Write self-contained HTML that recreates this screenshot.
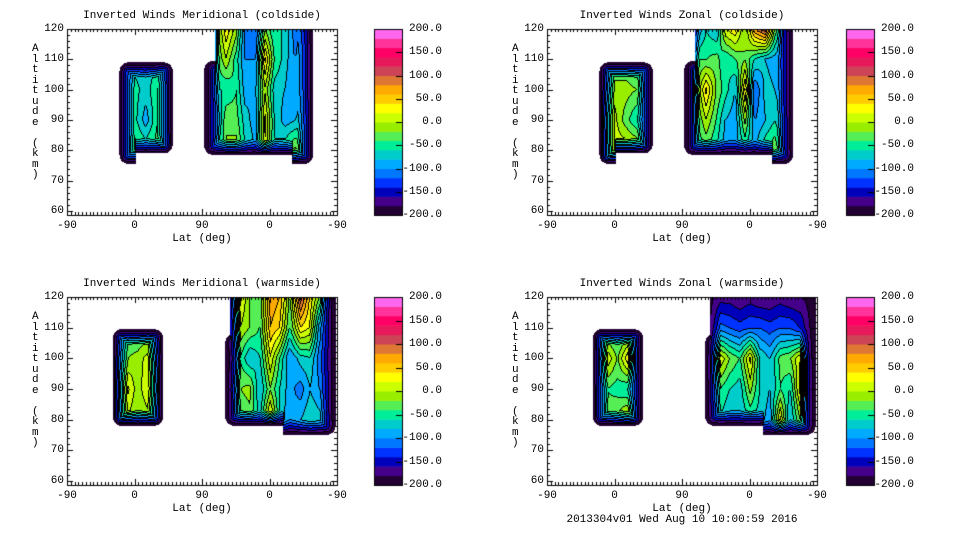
<!DOCTYPE html>
<html><head><meta charset="utf-8"><style>
body{margin:0;background:#fff;width:960px;height:540px;overflow:hidden;position:relative;font-family:"Liberation Mono","DejaVu Sans Mono",monospace;}
.t{position:absolute;font-size:11px;color:#000;white-space:pre;line-height:12px}
canvas{position:absolute;left:0;top:0}
</style></head><body>
<canvas id="cv" width="960" height="540"></canvas>
<div id="txt"></div>
<script>
// ---- data ----
const altRows = [80, 90, 100, 110, 120];
const levelColors = ["#220033","#440088","#0000bb","#0033ff","#0077ff","#00aaff","#00cccc","#00ee99","#55ee55","#99ee00","#ccff00","#ffff00","#ffcc00","#ffaa00","#dd7733","#cc4455","#e6195a","#ff0066","#ff3399","#ff66ee"];
const cbTicks = ["200.0","150.0","100.0","50.0","0.0","-50.0","-100.0","-150.0","-200.0"];
const yTicks = [60,70,80,90,100,110,120];
const xTickLabels = ["-90","0","90","0","-90"];

const coldR1 = {u0:70,u1:141,top:[[70,109]],bottom:[[70,75.5],[92,79]]};
const coldR2 = {u0:183,u1:328,top:[[183,109.5],[197,120]],bottom:[[183,78.5],[300,75.5]]};
const warmR1 = {u0:61,u1:128,top:[[61,109.5]],bottom:[[61,78]]};
const warmR2 = {u0:211,u1:358,top:[[211,108],[217,120]],bottom:[[211,78],[288,75]]};

const tlCols1 = [75,90,105,120,135];
const tlVals1 = [[-40,-20,-30,-60,-60],[-30,-50,-50,-70,-70],[-40,-90,-70,-80,-80],[-30,-40,-40,-60,-60],[-10,-20,-20,-60,-60]];
const tlCols2 = [187,200,212,226,238,251,264,277,291,304,317];
const tlVals2 = [[-120,-110,-120,-130,-130],[-60,-90,-60,-40,-30],[-20,-20,-60,0,40],[-10,-30,-40,-50,-10],[-60,-70,-90,-100,-110],[-80,-90,-80,-100,-120],[20,30,0,50,-20],[-60,-60,-70,-40,-60],[-40,-90,-80,-70,-60],[-10,-80,-100,-100,-110],[-50,-60,-70,-70,-90]];

const trCols1 = [75,90,105,120,135];
const trVals1 = [[30,50,0,-40,-40],[10,10,-10,-40,-40],[20,-30,-10,-40,-40],[10,-60,-20,-50,-50],[-30,-50,-40,-60,-60]];
const trCols2 = [187,200,212,226,238,251,264,277,291,304,317];
const trVals2 = [[-120,-120,-130,-130,-120],[-60,-40,-20,-40,-100],[-40,0,50,-40,-60],[-60,-40,-20,-30,-80],[-90,-80,-50,-60,20],[-90,-90,-80,-40,40],[-60,-10,50,-20,-20],[-80,-100,-120,-60,80],[-40,-80,-70,-80,120],[-20,-60,-80,-90,-20],[-80,-90,-100,-100,-100]];

const blCols1 = [66,80,94,108,122];
const blVals1 = [[20,50,20,-40,-40],[0,30,-20,-50,-50],[-20,-10,-10,-50,-50],[-10,20,10,-40,-40],[0,40,10,-60,-60]];
const blCols2 = [217,231,244,257,271,284,297,311,324,337,351];
const blVals2 = [[-100,-90,-120,-80,-40],[-40,-20,-40,0,30],[-30,-10,-80,-20,-20],[-60,-80,-60,-40,-30],[40,-20,20,60,80],[-60,-60,-40,40,60],[-100,-90,-100,-40,-20],[-80,-110,-70,40,120],[-60,-80,-60,20,40],[-70,-100,-110,-90,-20],[-100,-110,-120,-110,-100]];

const brCols1 = [66,80,94,108,122];
const brVals1 = [[-40,-30,-20,-50,-50],[-30,-40,20,-50,-50],[-10,-50,-20,-60,-60],[20,-60,40,-50,-50],[-30,-50,-30,-60,-60]];
const brCols2 = [217,231,244,257,271,284,297,311,324,337,351];
const brVals2 = [[-110,-70,-60,-130,-160],[-60,-40,20,-110,-170],[-80,-60,-20,-120,-170],[-80,-70,-40,-130,-180],[-60,-10,30,-120,-170],[-70,-60,-60,-120,-180],[-90,-80,-80,-130,-180],[30,-40,-30,-120,-170],[-80,-60,-20,-120,-180],[-20,30,20,-140,-180],[-100,-100,-100,-140,-170]];

const panels = [
 {title:"Inverted Winds Meridional (coldside)",x0:67,x1:337,y120:29,y60:211,yb:215,cb:374,regs:[[coldR1,tlCols1,tlVals1],[coldR2,tlCols2,tlVals2]]},
 {title:"Inverted Winds Zonal (coldside)",x0:547,x1:817,y120:29,y60:211,yb:215,cb:846,regs:[[coldR1,trCols1,trVals1],[coldR2,trCols2,trVals2]]},
 {title:"Inverted Winds Meridional (warmside)",x0:67,x1:337,y120:297,y60:481,yb:485,cb:374,regs:[[warmR1,blCols1,blVals1],[warmR2,blCols2,blVals2]]},
 {title:"Inverted Winds Zonal (warmside)",x0:547,x1:817,y120:297,y60:481,yb:485,cb:846,regs:[[warmR1,brCols1,brVals1],[warmR2,brCols2,brVals2]]}
];

// ---- rendering ----
const cv=document.getElementById('cv'),ctx=cv.getContext('2d');
const txt=document.getElementById('txt');
function label(s,x,y,align,name){
  const d=document.createElement('div');d.className='t';d.textContent=s;
  
  
  d.style.top=(y-6)+'px';
  if(align==='c'){d.style.left=(x-200)+'px';d.style.width='400px';d.style.textAlign='center';}
  else if(align==='r'){d.style.left=(x-100)+'px';d.style.width='100px';d.style.textAlign='right';}
  else d.style.left=x+'px';
  txt.appendChild(d);
}
function pw(arr,u){let v=arr[0][1];for(const p of arr){if(u>=p[0])v=p[1];}return v;}
function interp(cols,vals,u,a){
  let i=0;while(i<cols.length-2&&u>cols[i+1])i++;
  let tu=(u-cols[i])/(cols[i+1]-cols[i]);tu=Math.max(0,Math.min(1,tu));
  let j=0;while(j<altRows.length-2&&a>altRows[j+1])j++;
  let ta=(a-altRows[j])/(altRows[j+1]-altRows[j]);ta=Math.max(0,Math.min(1,ta));
  const v0=vals[i][j]*(1-ta)+vals[i][j+1]*ta, v1=vals[i+1][j]*(1-ta)+vals[i+1][j+1]*ta;
  return v0*(1-tu)+v1*tu;
}
const rgb=levelColors.map(c=>[parseInt(c.substr(1,2),16),parseInt(c.substr(3,2),16),parseInt(c.substr(5,2),16)]);
panels.forEach((P,pi)=>{
  const W=P.x1-P.x0, H=P.yb-P.y120;
  const upx=360/W, apx=60/(P.y60-P.y120);
  const lev=new Int16Array(W*H).fill(-1);
  for(let yy=0;yy<H;yy++)for(let xx=0;xx<W;xx++){
    const u=(xx+0.5)*upx, a=120-(yy+0.5)*apx;
    for(const [R,cols,vals] of P.regs){
      if(u<R.u0||u>R.u1)continue;
      const top=pw(R.top,u), bot=pw(R.bottom,u);
      if(a<bot||a>top)continue;
      let v=interp(cols,vals,u,a);
      const dl=(u-R.u0)/upx, dr=(R.u1-u)/upx, db=(a-bot)/apx, dt=top>=120?99:(top-a)/apx;
      const dx=Math.min(dl,dr), dy=Math.min(db,dt), Rr=9;
      let d=Math.min(dx,dy);
      if(dx<Rr&&dy<Rr)d=Rr-Math.hypot(Rr-dx,Rr-dy);
      if(d<0)continue;
      const f=Math.min(1,d/15);
      v=-200+(v+200)*Math.sqrt(f)*f*0+(v+200)*f*0+(v+200)*f;
      lev[yy*W+xx]=Math.max(0,Math.min(19,Math.floor((v+200)/20)));
    }
  }
  const img=ctx.createImageData(W,H);
  for(let yy=0;yy<H;yy++)for(let xx=0;xx<W;xx++){
    const k=yy*W+xx,l=lev[k];let c=[255,255,255];
    if(l>=0){c=rgb[l];
      const nb=[xx<W-1?lev[k+1]:l, yy<H-1?lev[k+W]:l, xx>0?lev[k-1]:l, yy>0?lev[k-W]:l];
      if(nb.some(n=>n>=0&&n<l))c=[0,0,0];}
    img.data[k*4]=c[0];img.data[k*4+1]=c[1];img.data[k*4+2]=c[2];img.data[k*4+3]=255;
  }
  ctx.putImageData(img,P.x0,P.y120);
  ctx.strokeStyle='#000';ctx.lineWidth=1;
  ctx.strokeRect(P.x0+0.5,P.y120+0.5,W,H);
  ctx.beginPath();
  for(let a=60;a<=120;a+=2){const y=Math.round(P.y60-(a-60)/apx)+0.5;const L=a%10===0?6:3;
    ctx.moveTo(P.x0,y);ctx.lineTo(P.x0+L,y);ctx.moveTo(P.x1,y);ctx.lineTo(P.x1-L,y);}
  for(let u=0;u<=360;u+=5){const x=Math.round(P.x0+u/upx)+0.5;const L=u%90===0?6:3;
    ctx.moveTo(x,P.yb);ctx.lineTo(x,P.yb-L);ctx.moveTo(x,P.y120);ctx.lineTo(x,P.y120+L);}
  ctx.stroke();
  yTicks.forEach(a=>label(String(a),P.x0-3,P.y60-(a-60)/apx,'r','y-tick-'+a));
  xTickLabels.forEach((s,i)=>label(s,P.x0+i*90/upx,P.yb+11,'c','x-tick'));
  label(P.title,(P.x0+P.x1)/2,P.y120-13,'c','panel-title');
  label("Lat (deg)",(P.x0+P.x1)/2,P.yb+24,'c','x-axis-title');
  "Altitude (km)".split('').forEach((ch,i)=>label(ch,P.x0-35,P.y120+20+i*10.5,'l','y-axis-title'));
  const cbH=P.yb-P.y120, bh=cbH/20;
  levelColors.forEach((c,i)=>{ctx.fillStyle=c;ctx.fillRect(P.cb,P.yb-(i+1)*bh,28,bh+0.5);});
  ctx.strokeRect(P.cb+0.5,P.y120+0.5,28,cbH);
  ctx.beginPath();
  cbTicks.forEach((s,i)=>{const y=Math.round(P.y120+i*cbH/8)+0.5;ctx.moveTo(P.cb+22,y);ctx.lineTo(P.cb+28,y);
    label(s,P.cb+68,P.y120+i*cbH/8,'r','colorbar-label');});
  ctx.stroke();
});
label("2013304v01 Wed Aug 10 10:00:59 2016",682,520,'c','timestamp');
</script>
</body></html>
